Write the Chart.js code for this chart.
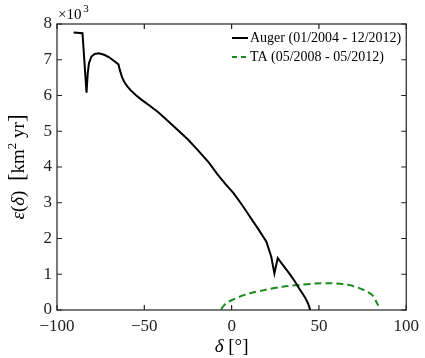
<!DOCTYPE html>
<html>
<head>
<meta charset="utf-8">
<script src="https://cdn.jsdelivr.net/npm/chart.js@4.4.1/dist/chart.umd.min.js"></script>
<style>
  body { margin: 0; background: #fff; }
  canvas { display: block; }
</style>
</head>
<body>
<canvas id="myChart" width="425" height="358"></canvas>
<script>
// Data (exposure in units of 10^3 km^2 yr)
const augerDelta = [-90.5, -85.4, -83.1, -82.4, -81.7, -80.3, -78.4, -76.1, -73.0, -70.1, -67.5, -64.8, -64.0,
    -62.8, -61.6, -59.8, -57.9, -54.6, -51.3, -46.5, -42.0, -36.3, -30.7, -25.0, -19.5, -13.0, -8.2, -3.5,
    1.2, 5.8, 10.5, 15.2, 19.9, 22.7, 24.5, 26.4, 29.5, 32.9, 35.8, 38.6, 40.5, 42.3, 43.8, 44.8, 45.0];
const augerExposure = [7.76, 7.74, 6.08, 6.62, 6.90, 7.09, 7.16, 7.18, 7.14, 7.07, 6.97, 6.87, 6.71,
    6.52, 6.39, 6.26, 6.15, 6.00, 5.87, 5.70, 5.53, 5.28, 5.03, 4.77, 4.48, 4.12, 3.80, 3.52,
    3.26, 2.95, 2.61, 2.27, 1.91, 1.49, 1.02, 1.45, 1.25, 1.03, 0.83, 0.61, 0.47, 0.33, 0.18, 0.03, 0.0];

const taDelta = [-6.0, -4.0, -2.0, 0.2, 5.0, 10.5, 20.0, 29.2, 38.6, 48.0, 57.3, 64.0, 69.5, 75.8, 80.5, 83.3, 84.0];
const taExposure = [0.02, 0.15, 0.22, 0.28, 0.38, 0.47, 0.57, 0.65, 0.70, 0.74, 0.75, 0.72, 0.67, 0.56, 0.42, 0.19, 0.12];

const xTicks = [-100, -50, 0, 50, 100];
const yTicks = [0, 1, 2, 3, 4, 5, 6, 7, 8];

const SERIF = "'Liberation Serif', 'DejaVu Serif', serif";

function toPoints(xs, ys) {
    return xs.map((x, i) => ({ x: x, y: ys[i] }));
}

// Frame, inward ticks, legend and axis titles
const decorPlugin = {
    id: 'decor',
    afterDraw(chart) {
        const ctx = chart.ctx;
        const a = chart.chartArea;
        const xs = chart.scales.x;
        const ys = chart.scales.y;

        ctx.save();
        ctx.strokeStyle = '#222';
        ctx.lineWidth = 1.2;
        ctx.strokeRect(a.left, a.top, a.right - a.left, a.bottom - a.top);

        ctx.beginPath();
        xTicks.forEach(v => {
            const px = xs.getPixelForValue(v);
            ctx.moveTo(px, a.bottom); ctx.lineTo(px, a.bottom - 5);
            ctx.moveTo(px, a.top); ctx.lineTo(px, a.top + 5);
        });
        yTicks.forEach(v => {
            const py = ys.getPixelForValue(v);
            ctx.moveTo(a.left, py); ctx.lineTo(a.left + 5, py);
            ctx.moveTo(a.right, py); ctx.lineTo(a.right - 5, py);
        });
        ctx.stroke();

        // legend
        ctx.fillStyle = '#000';
        ctx.font = '14px ' + SERIF;
        ctx.textBaseline = 'middle';
        ctx.textAlign = 'left';
        ctx.lineWidth = 2;
        ctx.strokeStyle = '#000';
        ctx.beginPath(); ctx.moveTo(232, 38); ctx.lineTo(248, 38); ctx.stroke();
        ctx.fillText('Auger (01/2004 - 12/2012)', 250, 38);
        ctx.strokeStyle = '#1a8a1a';
        ctx.setLineDash([5, 4]);
        ctx.beginPath(); ctx.moveTo(232, 57); ctx.lineTo(248, 57); ctx.stroke();
        ctx.setLineDash([]);
        ctx.fillText('TA (05/2008 - 05/2012)', 250, 57);

        // x10^3 multiplier
        ctx.font = '15px ' + SERIF;
        ctx.textBaseline = 'alphabetic';
        ctx.fillText('×10', 58, 19);
        ctx.font = '11px ' + SERIF;
        ctx.fillText('3', 58 + ctx.measureText('×10').width + 8, 12);

        // x title
        ctx.font = 'italic 19px ' + SERIF;
        ctx.textBaseline = 'alphabetic';
        const dW = ctx.measureText('δ ').width;
        ctx.font = '19px ' + SERIF;
        const bW = ctx.measureText('[°]').width;
        let x0 = xs.getPixelForValue(0) - (dW + bW) / 2;
        ctx.font = 'italic 19px ' + SERIF;
        ctx.fillText('δ', x0, 352);
        ctx.font = '19px ' + SERIF;
        ctx.fillText('[°]', x0 + dW, 352);

        // y title (rotated)
        const parts = [
            { t: 'ε', f: 'italic 19px ' },
            { t: '(', f: '19px ' },
            { t: 'δ', f: 'italic 19px ' },
            { t: ')  ', f: '19px ' },
            { t: '[', f: '23px ' },
            { t: 'km', f: '19px ' },
            { t: '2', f: '13px ', dy: -8 },
            { t: ' yr', f: '19px ' },
            { t: ']', f: '23px ' }
        ];
        let total = 0;
        parts.forEach(p => { ctx.font = p.f + SERIF; p.w = ctx.measureText(p.t).width; total += p.w; });
        ctx.save();
        ctx.translate(24, (a.top + a.bottom) / 2);
        ctx.rotate(-Math.PI / 2);
        let cx = -total / 2;
        parts.forEach(p => {
            ctx.font = p.f + SERIF;
            ctx.fillText(p.t, cx, p.dy || 0);
            cx += p.w;
        });
        ctx.restore();
        ctx.restore();
    }
};

const ctx = document.getElementById('myChart').getContext('2d');
const exposureChart = new Chart(ctx, {
    type: 'scatter',
    data: {
        datasets: [
            {
                label: 'Auger (01/2004 - 12/2012)',
                data: toPoints(augerDelta, augerExposure),
                showLine: true,
                borderColor: '#000',
                borderWidth: 2,
                pointRadius: 0,
                tension: 0
            },
            {
                label: 'TA (05/2008 - 05/2012)',
                data: toPoints(taDelta, taExposure),
                showLine: true,
                borderColor: '#1a8a1a',
                borderWidth: 2,
                borderDash: [7, 4],
                pointRadius: 0,
                tension: 0.3
            }
        ]
    },
    options: {
        responsive: false,
        animation: false,
        layout: { padding: { left: 0, top: 24, right: 13, bottom: 0 } },
        plugins: { legend: { display: false }, tooltip: { enabled: false } },
        scales: {
            x: {
                type: 'linear',
                min: -100,
                max: 100,
                afterFit: s => { s.height = 48; },
                afterBuildTicks: s => { s.ticks = xTicks.map(v => ({ value: v })); },
                grid: { display: false, drawTicks: false },
                border: { display: false },
                ticks: {
                    padding: 6,
                    color: '#222',
                    font: { family: SERIF, size: 17 },
                    callback: v => (v < 0 ? '\u2212' + Math.abs(v) : String(v))
                }
            },
            y: {
                min: 0,
                max: 8,
                afterFit: s => { s.width = 57; },
                afterBuildTicks: s => { s.ticks = yTicks.map(v => ({ value: v })); },
                grid: { display: false, drawTicks: false },
                border: { display: false },
                ticks: {
                    padding: 5,
                    color: '#222',
                    font: { family: SERIF, size: 17 }
                }
            }
        }
    },
    plugins: [decorPlugin]
});
</script>
</body>
</html>
